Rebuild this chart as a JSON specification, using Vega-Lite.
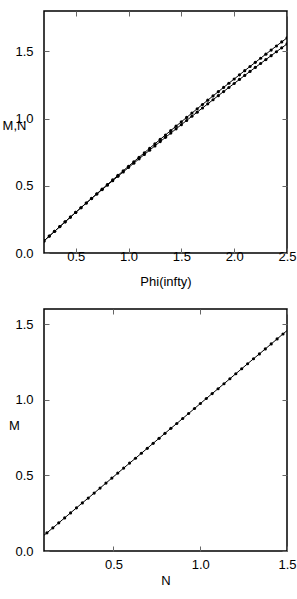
{
  "$schema": "https://vega.github.io/schema/vega-lite/v6.json",
  "padding": {"left": 1, "top": 9, "right": 0, "bottom": 0},
  "background": "white",
  "spacing": 18,
  "config": {
    "view": {"stroke": "black", "strokeWidth": 1.5},
    "axis": {
      "domain": false, "grid": false, "tickSize": -5, "tickColor": "#666", "tickWidth": 1, "labelFlush": false,
      "labelFont": "Liberation Sans", "labelFontSize": 13, "labelColor": "black",
      "titleFont": "Liberation Sans", "titleFontSize": 13, "titleFontWeight": "normal", "titleColor": "black"
    }
  },
  "datasets": {
    "top": [
      {"phi": 0.20, "value": 0.0900, "series": "M"}, {"phi": 0.25, "value": 0.1256, "series": "M"}, {"phi": 0.30, "value": 0.1611, "series": "M"}, {"phi": 0.35, "value": 0.1965, "series": "M"}, {"phi": 0.40, "value": 0.2318, "series": "M"}, {"phi": 0.45, "value": 0.2669, "series": "M"}, {"phi": 0.50, "value": 0.3020, "series": "M"}, {"phi": 0.55, "value": 0.3368, "series": "M"}, {"phi": 0.60, "value": 0.3716, "series": "M"}, {"phi": 0.65, "value": 0.4062, "series": "M"}, {"phi": 0.70, "value": 0.4408, "series": "M"}, {"phi": 0.75, "value": 0.4751, "series": "M"}, {"phi": 0.80, "value": 0.5094, "series": "M"}, {"phi": 0.85, "value": 0.5435, "series": "M"}, {"phi": 0.90, "value": 0.5776, "series": "M"}, {"phi": 0.95, "value": 0.6114, "series": "M"}, {"phi": 1.00, "value": 0.6452, "series": "M"}, {"phi": 1.05, "value": 0.6788, "series": "M"}, {"phi": 1.10, "value": 0.7124, "series": "M"}, {"phi": 1.15, "value": 0.7457, "series": "M"}, {"phi": 1.20, "value": 0.7790, "series": "M"}, {"phi": 1.25, "value": 0.8121, "series": "M"}, {"phi": 1.30, "value": 0.8452, "series": "M"}, {"phi": 1.35, "value": 0.8780, "series": "M"}, {"phi": 1.40, "value": 0.9108, "series": "M"}, {"phi": 1.45, "value": 0.9434, "series": "M"}, {"phi": 1.50, "value": 0.9760, "series": "M"}, {"phi": 1.55, "value": 1.0083, "series": "M"}, {"phi": 1.60, "value": 1.0406, "series": "M"}, {"phi": 1.65, "value": 1.0727, "series": "M"}, {"phi": 1.70, "value": 1.1048, "series": "M"}, {"phi": 1.75, "value": 1.1366, "series": "M"}, {"phi": 1.80, "value": 1.1684, "series": "M"}, {"phi": 1.85, "value": 1.2000, "series": "M"}, {"phi": 1.90, "value": 1.2316, "series": "M"}, {"phi": 1.95, "value": 1.2629, "series": "M"}, {"phi": 2.00, "value": 1.2942, "series": "M"}, {"phi": 2.05, "value": 1.3253, "series": "M"}, {"phi": 2.10, "value": 1.3564, "series": "M"}, {"phi": 2.15, "value": 1.3872, "series": "M"}, {"phi": 2.20, "value": 1.4180, "series": "M"}, {"phi": 2.25, "value": 1.4486, "series": "M"}, {"phi": 2.30, "value": 1.4792, "series": "M"}, {"phi": 2.35, "value": 1.5095, "series": "M"}, {"phi": 2.40, "value": 1.5398, "series": "M"}, {"phi": 2.45, "value": 1.5699, "series": "M"}, {"phi": 2.50, "value": 1.6000, "series": "M"},
      {"phi": 0.20, "value": 0.0900, "series": "N"}, {"phi": 0.25, "value": 0.1256, "series": "N"}, {"phi": 0.30, "value": 0.1611, "series": "N"}, {"phi": 0.35, "value": 0.1965, "series": "N"}, {"phi": 0.40, "value": 0.2318, "series": "N"}, {"phi": 0.45, "value": 0.2669, "series": "N"}, {"phi": 0.50, "value": 0.3020, "series": "N"}, {"phi": 0.55, "value": 0.3368, "series": "N"}, {"phi": 0.60, "value": 0.3716, "series": "N"}, {"phi": 0.65, "value": 0.4050, "series": "N"}, {"phi": 0.70, "value": 0.4384, "series": "N"}, {"phi": 0.75, "value": 0.4715, "series": "N"}, {"phi": 0.80, "value": 0.5047, "series": "N"}, {"phi": 0.85, "value": 0.5376, "series": "N"}, {"phi": 0.90, "value": 0.5705, "series": "N"}, {"phi": 0.95, "value": 0.6031, "series": "N"}, {"phi": 1.00, "value": 0.6357, "series": "N"}, {"phi": 1.05, "value": 0.6681, "series": "N"}, {"phi": 1.10, "value": 0.7005, "series": "N"}, {"phi": 1.15, "value": 0.7327, "series": "N"}, {"phi": 1.20, "value": 0.7648, "series": "N"}, {"phi": 1.25, "value": 0.7967, "series": "N"}, {"phi": 1.30, "value": 0.8286, "series": "N"}, {"phi": 1.35, "value": 0.8602, "series": "N"}, {"phi": 1.40, "value": 0.8918, "series": "N"}, {"phi": 1.45, "value": 0.9233, "series": "N"}, {"phi": 1.50, "value": 0.9547, "series": "N"}, {"phi": 1.55, "value": 0.9858, "series": "N"}, {"phi": 1.60, "value": 1.0169, "series": "N"}, {"phi": 1.65, "value": 1.0478, "series": "N"}, {"phi": 1.70, "value": 1.0787, "series": "N"}, {"phi": 1.75, "value": 1.1093, "series": "N"}, {"phi": 1.80, "value": 1.1400, "series": "N"}, {"phi": 1.85, "value": 1.1704, "series": "N"}, {"phi": 1.90, "value": 1.2008, "series": "N"}, {"phi": 1.95, "value": 1.2309, "series": "N"}, {"phi": 2.00, "value": 1.2610, "series": "N"}, {"phi": 2.05, "value": 1.2909, "series": "N"}, {"phi": 2.10, "value": 1.3208, "series": "N"}, {"phi": 2.15, "value": 1.3505, "series": "N"}, {"phi": 2.20, "value": 1.3801, "series": "N"}, {"phi": 2.25, "value": 1.4095, "series": "N"}, {"phi": 2.30, "value": 1.4389, "series": "N"}, {"phi": 2.35, "value": 1.4680, "series": "N"}, {"phi": 2.40, "value": 1.4971, "series": "N"}, {"phi": 2.45, "value": 1.5260, "series": "N"}, {"phi": 2.50, "value": 1.5550, "series": "N"}
    ],
    "bottom": [
      {"N": 0.083, "M": 0.088}, {"N": 0.117, "M": 0.120}, {"N": 0.151, "M": 0.153}, {"N": 0.185, "M": 0.186}, {"N": 0.219, "M": 0.219}, {"N": 0.253, "M": 0.252}, {"N": 0.287, "M": 0.285}, {"N": 0.321, "M": 0.318}, {"N": 0.355, "M": 0.350}, {"N": 0.389, "M": 0.383}, {"N": 0.423, "M": 0.416}, {"N": 0.457, "M": 0.449}, {"N": 0.491, "M": 0.482}, {"N": 0.525, "M": 0.515}, {"N": 0.559, "M": 0.548}, {"N": 0.593, "M": 0.581}, {"N": 0.627, "M": 0.613}, {"N": 0.661, "M": 0.646}, {"N": 0.695, "M": 0.679}, {"N": 0.729, "M": 0.712}, {"N": 0.763, "M": 0.745}, {"N": 0.797, "M": 0.778}, {"N": 0.831, "M": 0.811}, {"N": 0.865, "M": 0.843}, {"N": 0.899, "M": 0.876}, {"N": 0.933, "M": 0.909}, {"N": 0.967, "M": 0.942}, {"N": 1.001, "M": 0.975}, {"N": 1.035, "M": 1.008}, {"N": 1.069, "M": 1.041}, {"N": 1.103, "M": 1.073}, {"N": 1.137, "M": 1.106}, {"N": 1.171, "M": 1.139}, {"N": 1.205, "M": 1.172}, {"N": 1.239, "M": 1.205}, {"N": 1.273, "M": 1.238}, {"N": 1.307, "M": 1.271}, {"N": 1.341, "M": 1.303}, {"N": 1.375, "M": 1.336}, {"N": 1.409, "M": 1.369}, {"N": 1.443, "M": 1.402}, {"N": 1.477, "M": 1.435}, {"N": 1.511, "M": 1.468}
    ]
  },
  "vconcat": [
    {
      "width": 243, "height": 242,
      "data": {"name": "top"},
      "layer": [
        {
          "mark": {"type": "line", "color": "black", "strokeWidth": 1, "clip": true},
          "encoding": {
            "x": {"field": "phi", "type": "quantitative", "scale": {"domain": [0.2, 2.5], "nice": false, "zero": false},
                  "axis": {"orient": "bottom", "title": "Phi(infty)", "values": [0.5, 1, 1.5, 2, 2.5], "format": ".1f", "labelBaseline": "middle", "labelPadding": 8, "titleBaseline": "middle", "titleY": 28}},
            "y": {"field": "value", "type": "quantitative", "scale": {"domain": [0, 1.8], "nice": false},
                  "axis": {"orient": "left", "title": "M,N", "values": [0, 0.5, 1, 1.5], "format": ".1f", "labelPadding": 16, "titleAngle": 0, "titleAlign": "center", "titleBaseline": "middle", "titleX": -30, "titleY": 114}},
            "detail": {"field": "series"}
          }
        },
        {
          "mark": {"type": "point", "filled": true, "color": "black", "size": 10, "opacity": 1, "clip": true},
          "encoding": {
            "x": {"field": "phi", "type": "quantitative", "axis": {"orient": "top", "title": null, "labels": false, "values": [0.5, 1, 1.5, 2, 2.5]}},
            "y": {"field": "value", "type": "quantitative", "axis": {"orient": "right", "title": null, "labels": false, "values": [0, 0.5, 1, 1.5]}}
          }
        }
      ]
    },
    {
      "width": 243, "height": 242,
      "data": {"name": "bottom"},
      "layer": [
        {
          "mark": {"type": "line", "color": "black", "strokeWidth": 1, "clip": true},
          "encoding": {
            "x": {"field": "N", "type": "quantitative", "scale": {"domain": [0.1, 1.5], "nice": false, "zero": false},
                  "axis": {"orient": "bottom", "title": "N", "values": [0.5, 1, 1.5], "format": ".1f", "labelBaseline": "middle", "labelPadding": 18, "titleBaseline": "middle", "titleY": 29}},
            "y": {"field": "M", "type": "quantitative", "scale": {"domain": [0, 1.6], "nice": false},
                  "axis": {"orient": "left", "title": "M", "values": [0, 0.5, 1, 1.5], "format": ".1f", "labelPadding": 16, "titleAngle": 0, "titleAlign": "center", "titleBaseline": "middle", "titleX": -30, "titleY": 116}}
          }
        },
        {
          "mark": {"type": "point", "filled": true, "color": "black", "size": 10, "opacity": 1, "clip": true},
          "encoding": {
            "x": {"field": "N", "type": "quantitative", "axis": {"orient": "top", "title": null, "labels": false, "values": [0.5, 1, 1.5]}},
            "y": {"field": "M", "type": "quantitative", "axis": {"orient": "right", "title": null, "labels": false, "values": [0, 0.5, 1, 1.5]}}
          }
        }
      ]
    }
  ]
}
